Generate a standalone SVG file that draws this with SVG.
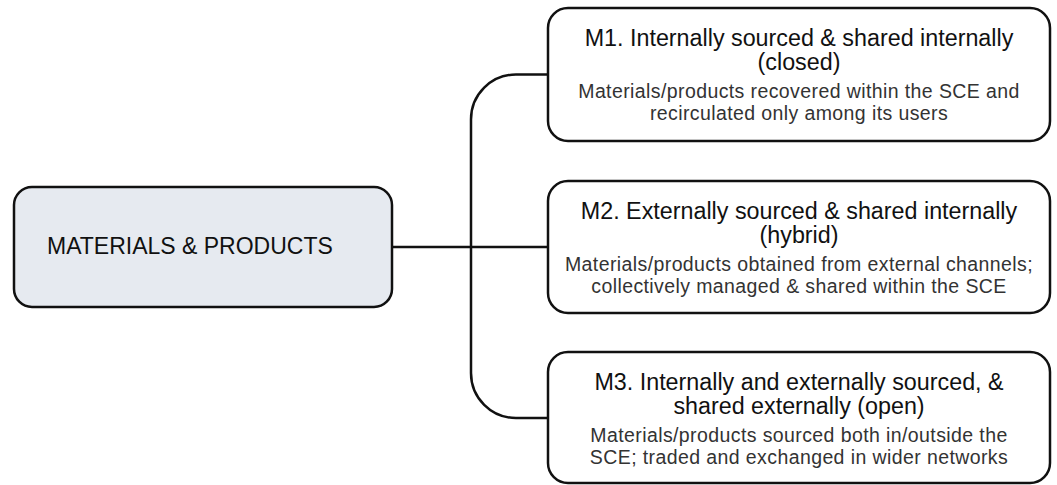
<svg xmlns="http://www.w3.org/2000/svg" width="1057" height="485" viewBox="0 0 1057 485">
  <style>
    .box { fill: #ffffff; stroke: #111111; stroke-width: 2.5; }
    .root { fill: #e6eaf0; stroke: #111111; stroke-width: 2.5; }
    .link { fill: none; stroke: #111111; stroke-width: 2.5; }
    .root-label { font-family: "Liberation Sans", Arial, sans-serif; font-size: 23px; fill: #111111; }
    .title { font-family: "Liberation Sans", Arial, sans-serif; font-size: 23.3px; fill: #111111; text-anchor: middle; }
    .desc { font-family: "Liberation Sans", Arial, sans-serif; font-size: 19.5px; fill: #333333; text-anchor: middle; letter-spacing: 0.4px; }
  </style>
  <rect width="1057" height="485" fill="#ffffff"/>

  <!-- tree connectors -->
  <g id="connectors">
    <path class="link" d="M392,247 H548"/>
    <path class="link" d="M548,74.5 H516 A45,45 0 0 0 471,119.5 V373 A45,45 0 0 0 516,418 H548"/>
  </g>

  <g id="materials-products">
    <rect class="root" x="14" y="187" width="378" height="120" rx="18"/>
    <text class="root-label" x="47" y="254">MATERIALS &amp; PRODUCTS</text>
  </g>

  <g id="m1">
    <rect class="box" x="548" y="8" width="502" height="133" rx="20"/>
    <text class="title" x="799" y="46">M1. Internally sourced &amp; shared internally</text>
    <text class="title" x="799" y="70">(closed)</text>
    <text class="desc" x="799" y="97.5">Materials/products recovered within the SCE and</text>
    <text class="desc" x="799" y="120">recirculated only among its users</text>
  </g>

  <g id="m2">
    <rect class="box" x="548" y="181" width="502" height="132" rx="20"/>
    <text class="title" x="799" y="219">M2. Externally sourced &amp; shared internally</text>
    <text class="title" x="799" y="243">(hybrid)</text>
    <text class="desc" x="799" y="270.5">Materials/products obtained from external channels;</text>
    <text class="desc" x="799" y="293">collectively managed &amp; shared within the SCE</text>
  </g>

  <g id="m3">
    <rect class="box" x="548" y="352" width="502" height="131" rx="20"/>
    <text class="title" x="799" y="390">M3. Internally and externally sourced, &amp;</text>
    <text class="title" x="799" y="414">shared externally (open)</text>
    <text class="desc" x="799" y="441.5">Materials/products sourced both in/outside the</text>
    <text class="desc" x="799" y="464">SCE; traded and exchanged in wider networks</text>
  </g>
</svg>
